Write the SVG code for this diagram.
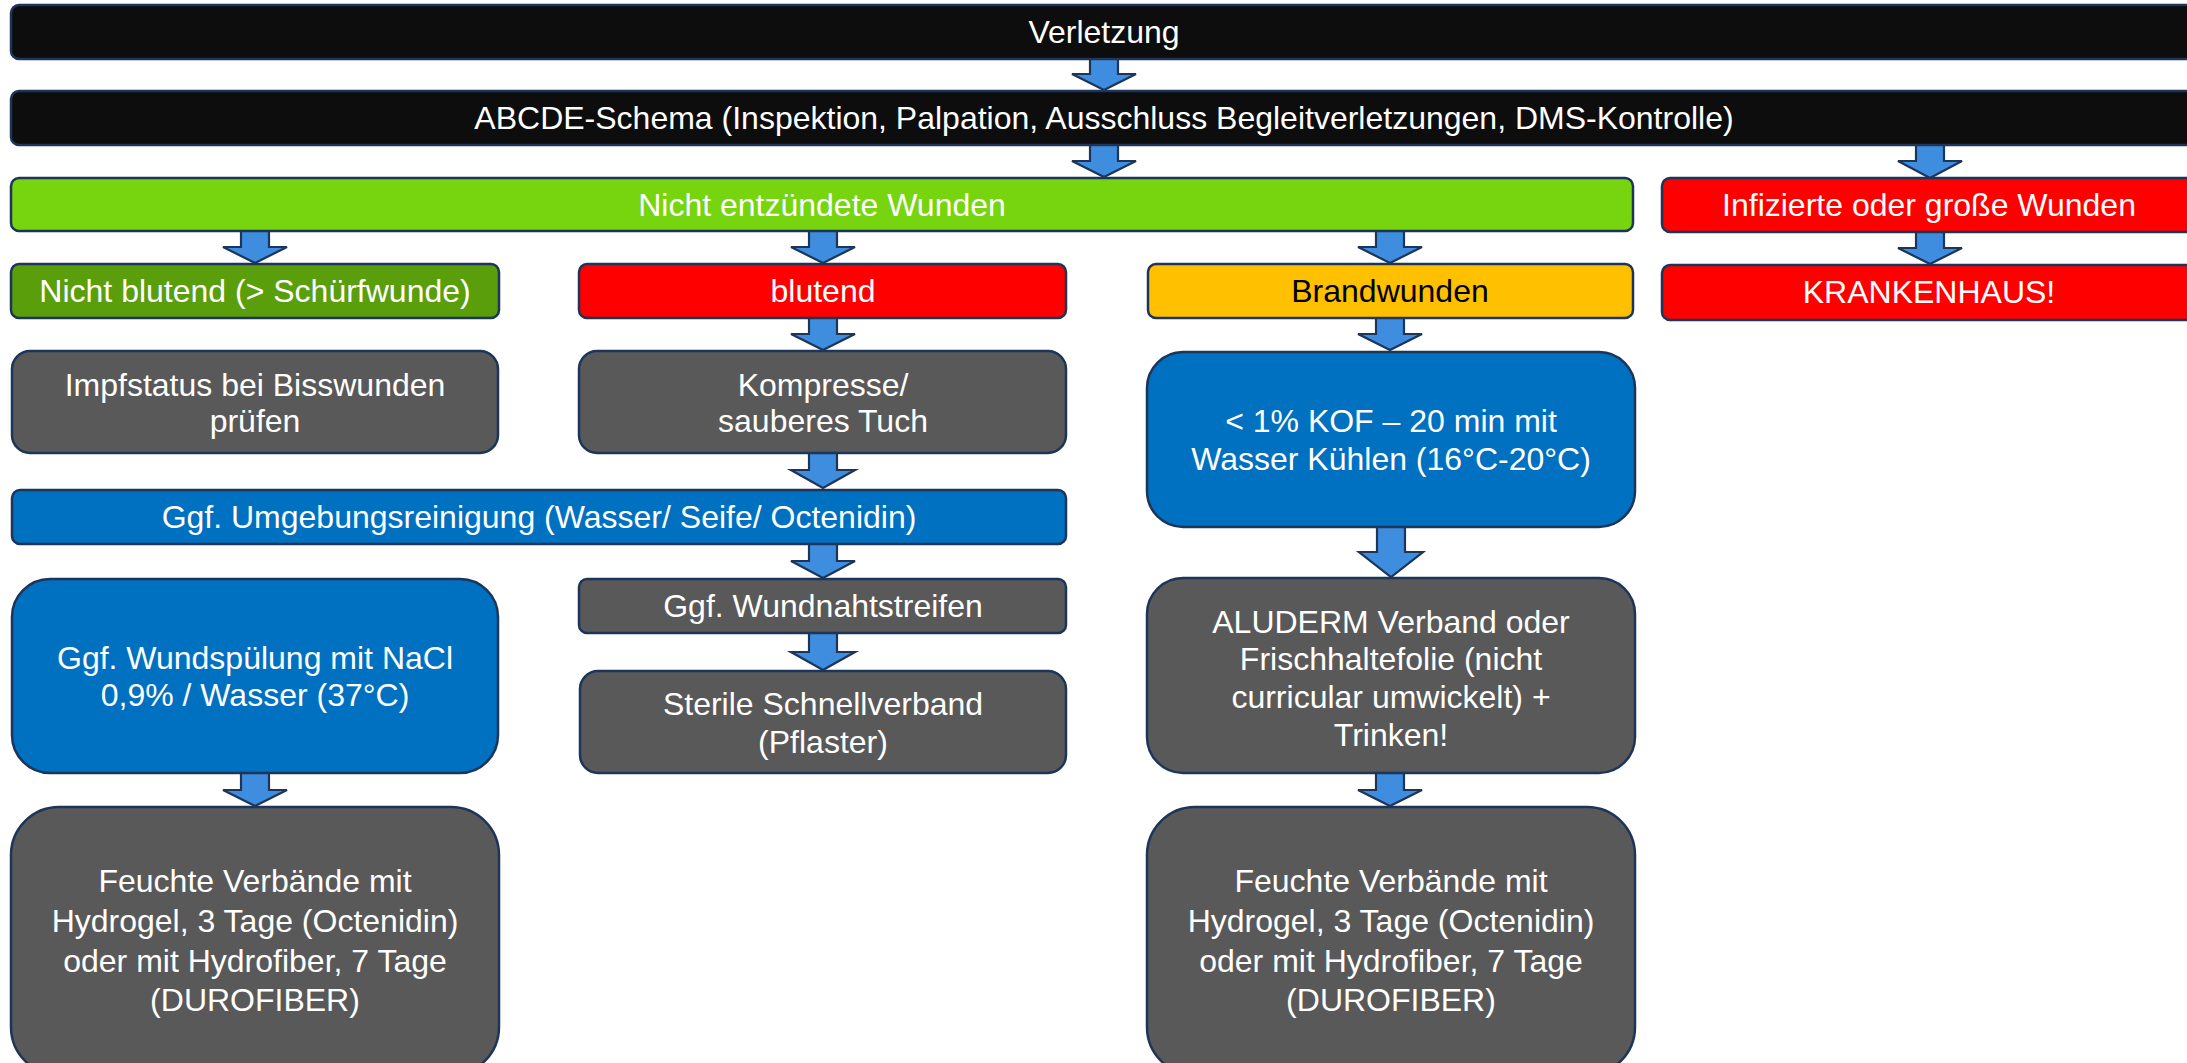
<svg xmlns="http://www.w3.org/2000/svg" width="2187" height="1063" viewBox="0 0 2187 1063">
<style>
.b{stroke:#1c3559;stroke-width:2.5}
.k{fill:#0d0d0d}.g{fill:#76d50f}.dg{fill:#5a9e0b}.r{fill:#ff0000}.o{fill:#ffc000}.gr{fill:#595959}.bl{fill:#0070c0}
.a{fill:#3f8ddf;stroke:#1c3559;stroke-width:2.2;stroke-linejoin:miter}
text{font-family:"Liberation Sans",Arial,sans-serif;font-size:32px;fill:#ffffff;text-anchor:middle}
text.dk{fill:#000000}
</style>
<rect width="2187" height="1063" fill="#ffffff"/>
<g id="connectors">
<polygon class="a" points="1090,59 1118,59 1118,74 1136,74 1104,90 1072,74 1090,74"/>
<polygon class="a" points="1090,145 1118,145 1118,161 1136,161 1104,177 1072,161 1090,161"/>
<polygon class="a" points="1916,145 1944,145 1944,161 1962,161 1930,178 1898,161 1916,161"/>
<polygon class="a" points="241,231 269,231 269,247 287,247 255,263 223,247 241,247"/>
<polygon class="a" points="809,231 837,231 837,247 855,247 823,263 791,247 809,247"/>
<polygon class="a" points="1376,231 1404,231 1404,247 1422,247 1390,263 1358,247 1376,247"/>
<polygon class="a" points="1916,232 1944,232 1944,248 1962,248 1930,264 1898,248 1916,248"/>
<polygon class="a" points="809,318 837,318 837,334 855,334 823,350 791,334 809,334"/>
<polygon class="a" points="1376,318 1404,318 1404,334 1422,334 1390,350 1358,334 1376,334"/>
<polygon class="a" points="809,453 837,453 837,470 855,470 823,488 791,470 809,470"/>
<polygon class="a" points="809,544 837,544 837,561 855,561 823,578 791,561 809,561"/>
<polygon class="a" points="809,633 837,633 837,652 855,652 823,670 791,652 809,652"/>
<polygon class="a" points="1377,527 1405,527 1405,552 1423,552 1391,577 1359,552 1377,552"/>
<polygon class="a" points="241,773 269,773 269,790 287,790 255,806 223,790 241,790"/>
<polygon class="a" points="1376,773 1404,773 1404,790 1422,790 1390,806 1358,790 1376,790"/>
</g>
<g id="n-verletzung"><rect class="b k" x="11" y="5" width="2186" height="54" rx="8"/><text x="1104" y="43">Verletzung</text></g>
<g id="n-abcde"><rect class="b k" x="11" y="91" width="2186" height="54" rx="8"/><text x="1104" y="129">ABCDE-Schema (Inspektion, Palpation, Ausschluss Begleitverletzungen, DMS-Kontrolle)</text></g>
<g id="n-nicht-entzuendet"><rect class="b g" x="11" y="178" width="1622" height="53" rx="8"/><text x="822" y="216">Nicht entzündete Wunden</text></g>
<g id="n-infiziert"><rect class="b r" x="1662" y="178" width="535" height="54" rx="8"/><text x="1929" y="216">Infizierte oder große Wunden</text></g>
<g id="n-nicht-blutend"><rect class="b dg" x="11" y="264" width="488" height="54" rx="8"/><text x="255" y="302">Nicht blutend (&gt; Schürfwunde)</text></g>
<g id="n-blutend"><rect class="b r" x="579" y="264" width="487" height="54" rx="8"/><text x="823" y="302">blutend</text></g>
<g id="n-brandwunden"><rect class="b o" x="1148" y="264" width="485" height="54" rx="8"/><text class="dk" x="1390" y="302">Brandwunden</text></g>
<g id="n-krankenhaus"><rect class="b r" x="1662" y="265" width="535" height="55" rx="8"/><text x="1929" y="303">KRANKENHAUS!</text></g>
<g id="n-impfstatus"><rect class="b gr" x="12" y="351" width="486" height="102" rx="18"/><text x="255" y="396">Impfstatus bei Bisswunden</text><text x="255" y="432">prüfen</text></g>
<g id="n-kompresse"><rect class="b gr" x="579" y="351" width="487" height="102" rx="18"/><text x="823" y="396">Kompresse/</text><text x="823" y="432">sauberes Tuch</text></g>
<g id="n-kof"><rect class="b bl" x="1147" y="352" width="488" height="175" rx="36"/><text x="1391" y="432">&lt; 1% KOF – 20 min mit</text><text x="1391" y="470">Wasser Kühlen (16°C-20°C)</text></g>
<g id="n-umgebung"><rect class="b bl" x="12" y="490" width="1054" height="54" rx="8"/><text x="539" y="528">Ggf. Umgebungsreinigung (Wasser/ Seife/ Octenidin)</text></g>
<g id="n-wundnaht"><rect class="b gr" x="579" y="579" width="487" height="54" rx="8"/><text x="823" y="617">Ggf. Wundnahtstreifen</text></g>
<g id="n-sterile"><rect class="b gr" x="580" y="671" width="486" height="102" rx="18"/><text x="823" y="715">Sterile Schnellverband</text><text x="823" y="753">(Pflaster)</text></g>
<g id="n-wundspuelung"><rect class="b bl" x="12" y="579" width="486" height="194" rx="38"/><text x="255" y="669">Ggf. Wundspülung mit NaCl</text><text x="255" y="706">0,9% / Wasser (37°C)</text></g>
<g id="n-aluderm"><rect class="b gr" x="1147" y="578" width="488" height="195" rx="36"/><text x="1391" y="633">ALUDERM Verband oder</text><text x="1391" y="670">Frischhaltefolie (nicht</text><text x="1391" y="708">curricular umwickelt) +</text><text x="1391" y="746">Trinken!</text></g>
<g id="n-feuchte-links"><rect class="b gr" x="11" y="807" width="488" height="268" rx="48"/><text x="255" y="892">Feuchte Verbände mit</text><text x="255" y="932">Hydrogel, 3 Tage (Octenidin)</text><text x="255" y="972">oder mit Hydrofiber, 7 Tage</text><text x="255" y="1011">(DUROFIBER)</text></g>
<g id="n-feuchte-rechts"><rect class="b gr" x="1147" y="807" width="488" height="268" rx="48"/><text x="1391" y="892">Feuchte Verbände mit</text><text x="1391" y="932">Hydrogel, 3 Tage (Octenidin)</text><text x="1391" y="972">oder mit Hydrofiber, 7 Tage</text><text x="1391" y="1011">(DUROFIBER)</text></g>
</svg>
